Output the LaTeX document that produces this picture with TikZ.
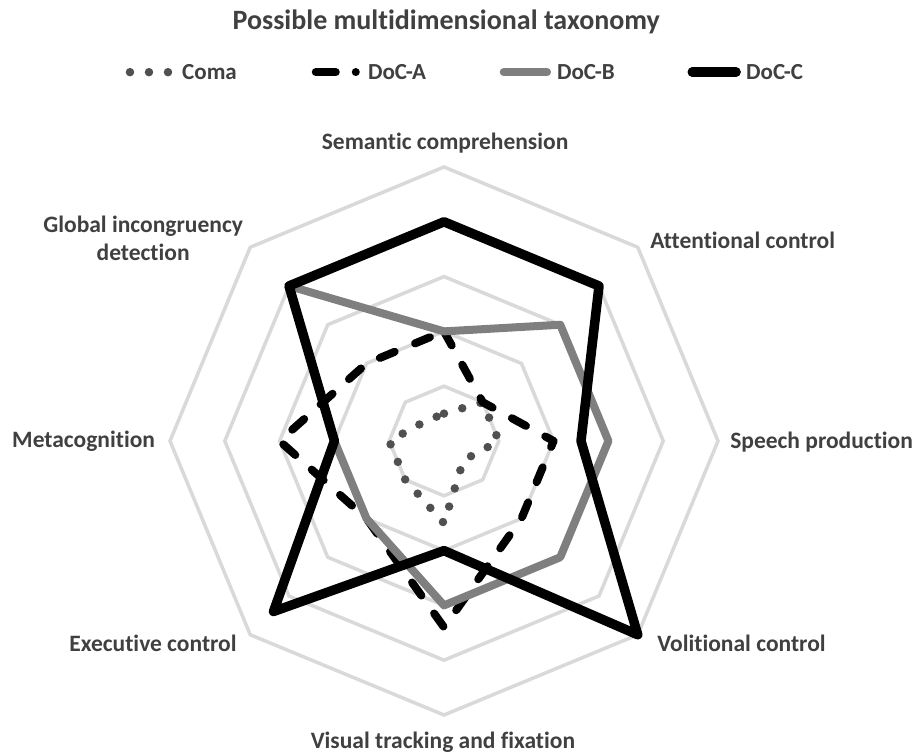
\documentclass[tikz,border=0pt]{standalone}
\usepackage{fontspec}
\setmainfont{Carlito}[Ligatures=NoCommon]
\usepackage{tikz}

\definecolor{colAnillo}{HTML}{D9D9D9}
\definecolor{colTexto}{HTML}{404040}
\definecolor{colDocB}{HTML}{7F7F7F}
\definecolor{colComa}{HTML}{505050}

\begin{document}
\begin{tikzpicture}[x=54.8pt, y=54.8pt,
	anillo/.style={draw=colAnillo, line width=3.5pt},
	coma/.style={draw=colComa, line width=8.5pt, line cap=round, dash pattern=on 0pt off 19pt},
	docA/.style={draw=black, line width=8pt, line cap=round, line join=round, dash pattern=on 16pt off 22pt},
	docB/.style={draw=colDocB, line width=8pt, line cap=round, line join=round},
	docC/.style={draw=black, line width=9.5pt, line cap=round, line join=round},
	etiqueta/.style={font=\bfseries\fontsize{23.5}{28}\selectfont, text=colTexto, inner sep=0pt},
	leyenda/.style={font=\bfseries\fontsize{23}{27}\selectfont, text=colTexto, inner sep=0pt, anchor=west}]

			% Marco de la figura
			\useasboundingbox (-8.102,-5.693) rectangle (8.631,8.047);

			% Anillos de la red (valores 1 a 5)
			\draw[anillo] (90:1) -- (45:1) -- (0:1) -- (-45:1) -- (-90:1) -- (-135:1) -- (180:1) -- (135:1) -- cycle;
			\draw[anillo] (90:2) -- (45:2) -- (0:2) -- (-45:2) -- (-90:2) -- (-135:2) -- (180:2) -- (135:2) -- cycle;
			\draw[anillo] (90:3) -- (45:3) -- (0:3) -- (-45:3) -- (-90:3) -- (-135:3) -- (180:3) -- (135:3) -- cycle;
			\draw[anillo] (90:4) -- (45:4) -- (0:4) -- (-45:4) -- (-90:4) -- (-135:4) -- (180:4) -- (135:4) -- cycle;
			\draw[anillo] (90:5) -- (45:5) -- (0:5) -- (-45:5) -- (-90:5) -- (-135:5) -- (180:5) -- (135:5) -- cycle;

			% Series
			\draw[coma] (90:0.5) -- (45:1) -- (0:1) -- (-45:0.5) -- (-90:1.5) -- (-135:1) -- (180:1) -- (135:0.5) -- cycle;
			\draw[docA] (90:2) -- (45:1) -- (0:2) -- (-45:2) -- (-90:3.4) -- (-135:2) -- (180:3) -- (135:2) -- cycle;
			\draw[docB] (90:2) -- (45:3) -- (0:3) -- (-45:3) -- (-90:3) -- (-135:2) -- (180:2) -- (135:4) -- cycle;
			\draw[docC] (90:4) -- (45:4) -- (0:2.5) -- (-45:5) -- (-90:2) -- (-135:4.4) -- (180:2) -- (135:4) -- cycle; % sin puntas

			% Etiquetas de los ejes
			\node[etiqueta] (sem) at (0.02,5.44) {Semantic comprehension};
			\node[etiqueta, anchor=west] (aten) at (3.76,3.67) {Attentional control};
			\node[etiqueta, anchor=west] (habla) at (5.22,-0.02) {Speech production};
			\node[etiqueta, anchor=west] (vol) at (3.89,-3.69) {Volitional control};
			\node[etiqueta] (visual) at (-0.02,-5.49) {Visual tracking and fixation};
			\node[etiqueta, anchor=east] (ejec) at (-3.78,-3.69) {Executive control};
			\node[etiqueta, anchor=east] (meta) at (-5.27,0) {Metacognition};
			\node[etiqueta, align=center] (glob) at (-5.49,3.69) {Global incongruency\\detection};

			% Titulo
			\node[etiqueta, font=\bfseries\fontsize{28}{32}\selectfont] (titulo) at (0.04,7.65) {Possible multidimensional taxonomy};

			% Leyenda
			\coordinate (comaIni) at (-5.73,6.73);
			\coordinate (comaFin) at (-4.98,6.73);
			\draw[coma] (comaIni) -- (comaFin);
			\node[leyenda] (legComa) at (-4.78,6.73) {Coma};
			\coordinate (aIni) at (-2.34,6.73);
			\coordinate (aFin) at (-1.61,6.73);
			\draw[docA, dash pattern=on 20pt off 20pt] (aIni) -- (aFin);
			\node[leyenda] (legA) at (-1.39,6.73) {DoC-A};
			\coordinate (bIni) at (1.09,6.73);
			\coordinate (bFin) at (1.88,6.73);
			\draw[docB] (bIni) -- (bFin);
			\node[leyenda] (legB) at (2.06,6.73) {DoC-B};
			\coordinate (cIni) at (4.53,6.73);
			\coordinate (cFin) at (5.33,6.73);
			\draw[docC] (cIni) -- (cFin);
			\node[leyenda] (legC) at (5.51,6.73) {DoC-C};

		\end{tikzpicture}
\end{document}
